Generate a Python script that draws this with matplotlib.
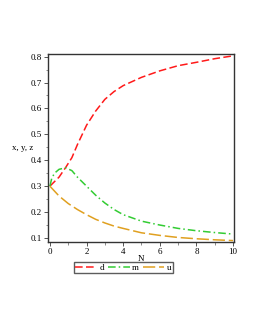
import matplotlib
matplotlib.use('Agg')
import matplotlib.pyplot as plt
from matplotlib.ticker import MultipleLocator

plt.rcParams['font.family'] = ['Liberation Serif', 'DejaVu Serif']

# values
n_d = [0, 0.5, 0.85, 1.2, 1.5, 2, 2.5, 3, 3.5, 4, 5, 6, 7, 8, 9, 10]
d = [0.30, 0.335, 0.371, 0.41, 0.46, 0.535, 0.59, 0.635, 0.665, 0.688, 0.72, 0.745, 0.765, 0.778, 0.792, 0.803]

n_m = [0, 0.1, 0.25, 0.5, 0.85, 1.2, 1.5, 2, 2.5, 3, 3.5, 4, 5, 6, 7, 8, 9, 10]
m = [0.30, 0.33, 0.35, 0.365, 0.371, 0.36, 0.335, 0.30, 0.265, 0.235, 0.21, 0.19, 0.165, 0.15, 0.137, 0.128, 0.121, 0.115]

n_u = [0, 0.5, 1, 1.5, 2, 2.5, 3, 3.5, 4, 5, 6, 7, 8, 9, 10]
u = [0.30, 0.262, 0.233, 0.21, 0.19, 0.172, 0.158, 0.146, 0.137, 0.12, 0.11, 0.102, 0.097, 0.093, 0.09]

fig = plt.figure(figsize=(2.55, 3.3), dpi=100)
ax = fig.add_axes([0.189, 0.2676, 0.73, 0.5679])

ax.plot(n_d, d, color='#ff1a1a', lw=1.1, dashes=(5, 2.2), label='d')
ax.plot(n_m, m, color='#33cc33', lw=1.1, dashes=(5, 2, 1, 2), label='m')
ax.plot(n_u, u, color='#e0a020', lw=1.1, dashes=(8, 2.5), label='u')

ax.set_xlim(-0.093, 10.07)
ax.set_ylim(0.0857, 0.809)
ax.xaxis.set_major_locator(MultipleLocator(2))
ax.xaxis.set_minor_locator(MultipleLocator(1))
ax.yaxis.set_major_locator(MultipleLocator(0.1))
ax.yaxis.set_minor_locator(MultipleLocator(0.05))
ax.yaxis.set_major_formatter(plt.FuncFormatter(lambda v, p: f'{v:.1f}'))
ax.tick_params(which='major', length=3, width=0.7, labelsize=6.5, pad=1.5, color='#555555')
ax.tick_params(which='minor', length=1.8, width=0.6, color='#777777')
for s in ax.spines.values():
    s.set_linewidth(1.0)
    s.set_color('#333333')

ax.set_xlabel('N', fontsize=6.5, labelpad=-1)
ax.set_ylabel('x, y, z', fontsize=6.5, rotation=0, labelpad=6, va='center')

fig.legend(loc='center', bbox_to_anchor=(123.5 / 255, 1 - 267.5 / 330), ncol=3,
           fontsize=6.5, frameon=True, fancybox=False, edgecolor='#333333',
           handlelength=2.4, handletextpad=0.3, columnspacing=0.4,
           borderpad=0.15, borderaxespad=0, labelspacing=0.2)

fig.savefig('out.png', dpi=100)
